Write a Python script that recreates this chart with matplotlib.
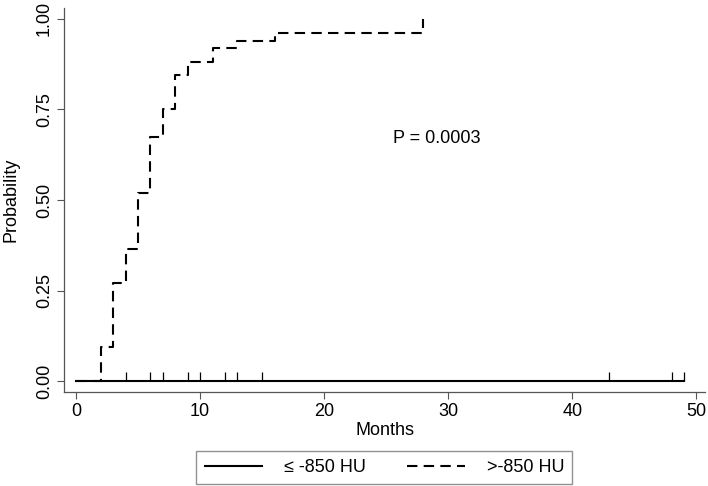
import numpy as np
import matplotlib.pyplot as plt
from matplotlib.lines import Line2D

plt.rcParams['font.family'] = ['Liberation Sans', 'DejaVu Sans']

# Curva >-850 HU (escalones)
meses_alto = [0, 2, 3, 4, 5, 6, 7, 8, 9, 11, 13, 16, 28]
prob_alto = [0.0, 0.094, 0.27, 0.365, 0.52, 0.675, 0.75, 0.845, 0.88, 0.92, 0.94, 0.96, 1.0]

# Curva <= -850 HU (plana en cero)
meses_bajo = [0, 49]
prob_bajo = [0.0, 0.0]
censuras_bajo = [4, 6, 7, 9, 10, 12, 13, 15, 43, 48, 49]

etiquetas = ['\u2264 -850 HU', '>-850 HU']
texto_p = 'P = 0.0003'

fig = plt.figure(figsize=(7.08, 4.86), dpi=100)
ax = fig.add_axes([0.0904, 0.1934, 0.9054, 0.790])

ax.step(meses_bajo, prob_bajo, where='post', color='black', lw=1.5)
ax.vlines(censuras_bajo, 0, 0.025, color='black', lw=0.9)
ax.step(meses_alto, prob_alto, where='post', color='black', lw=1.5,
        dashes=(5, 3))

ax.text(29.1, 0.67, texto_p, fontsize=13, ha='center', va='center')

ax.set_xlim(-0.97, 50.7)
ax.set_ylim(-0.03, 1.03)
ax.set_xticks([0, 10, 20, 30, 40, 50])
ax.set_yticks([0, 0.25, 0.5, 0.75, 1.0])
ax.set_yticklabels(['0.00', '0.25', '0.50', '0.75', '1.00'], rotation=90, va='center')
ax.tick_params(labelsize=13, direction='out', length=5, color='#555555', pad=3)
ax.set_xlabel('Months', fontsize=13, labelpad=1)
ax.set_ylabel('Probability', fontsize=13, labelpad=12)

for lado in ['top', 'right']:
    ax.spines[lado].set_visible(False)
for lado in ['left', 'bottom']:
    ax.spines[lado].set_color('#555555')
    ax.spines[lado].set_linewidth(0.9)

manejadores = [Line2D([], [], color='black', lw=1.5),
               Line2D([], [], color='black', lw=1.5, dashes=(5, 3))]
leyenda = fig.legend(manejadores, etiquetas, loc='center', ncol=2,
                     bbox_to_anchor=(0.543, 0.038), fontsize=13,
                     frameon=True, fancybox=False, handlelength=3.2,
                     columnspacing=2.3, borderpad=0.45, handletextpad=1.2,
                     borderaxespad=0)
leyenda.get_frame().set_edgecolor('#777777')
leyenda.get_frame().set_linewidth(1.0)

fig.savefig('out.png', dpi=100)
